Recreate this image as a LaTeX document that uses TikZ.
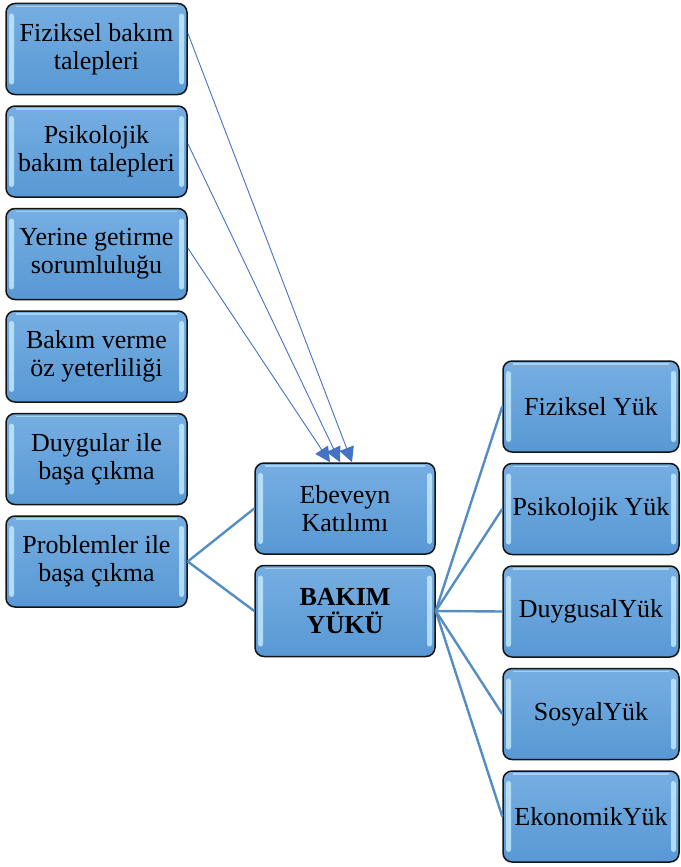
\documentclass[tikz,border=0pt]{standalone}
\usepackage{fontspec}
\setmainfont{Liberation Serif}
\definecolor{bkBox}{RGB}{88,152,212}
\definecolor{bkBoxTop}{RGB}{118,174,226}
\definecolor{bkShine}{RGB}{200,236,252}
\definecolor{bkBorder}{RGB}{20,20,20}
\definecolor{bkArrow}{RGB}{68,114,196}
\definecolor{bkLine}{RGB}{84,141,196}
\usepackage{tikz}
\usetikzlibrary{
  arrows.meta,
  positioning
}
\tikzset{
  % Genel kutu stilleri
  basenode/.style={
    rounded corners=9pt,
    draw=bkBorder,
    line width=1.5pt,
    minimum height=91pt,
    text centered,
    align=center,
    font=\fontsize{26}{28}\selectfont,
    text=black,
    top color=bkBoxTop,
    bottom color=bkBox,
    path picture={
      \fill[bkShine, opacity=0.8, rounded corners=2.5pt]
        ([xshift=3pt,yshift=-10pt]path picture bounding box.north west)
        rectangle ([xshift=8pt,yshift=10pt]path picture bounding box.south west);
      \fill[bkShine, opacity=0.8, rounded corners=2.5pt]
        ([xshift=-3pt,yshift=-10pt]path picture bounding box.north east)
        rectangle ([xshift=-8pt,yshift=10pt]path picture bounding box.south east);
      \draw[bkShine, opacity=0.6, line width=1.5pt]
        ([xshift=10pt,yshift=-3pt]path picture bounding box.north west)
        -- ([xshift=-10pt,yshift=-3pt]path picture bounding box.north east);
    }
  },
  leftbox/.style={basenode, minimum width=181pt},
  midbox/.style={basenode, minimum width=180pt},
  rightbox/.style={basenode, minimum width=176pt},
  % Ok stilleri
  arrow/.style={-{Triangle[length=15pt,width=15pt]}, line width=0.9pt, color=bkArrow},
  link/.style={line width=2.4pt, color=bkLine},
}

\begin{document}
\begin{tikzpicture}
  \useasboundingbox (0,0) rectangle (680pt,-867pt);
  % Sol sütun
  \node[leftbox] (fizbakim) at (96.5pt,-49pt) {Fiziksel bakım\\talepleri};
  \node[leftbox, below=10pt of fizbakim] (psibakim) {Psikolojik\\bakım talepleri};
  \node[leftbox, below=10pt of psibakim] (yerine) {Yerine getirme\\sorumluluğu};
  \node[leftbox, below=10pt of yerine] (ozyet) {Bakım verme\\öz yeterliliği};
  \node[leftbox, below=10pt of ozyet] (duygu) {Duygular ile\\başa çıkma};
  \node[leftbox, below=10pt of duygu] (problem) {Problemler ile\\başa çıkma};
  % Orta sütun
  \node[midbox] (ebeveyn) at (345pt,-508.5pt) {Ebeveyn\\Katılımı};
  \node[midbox, below=10pt of ebeveyn, font=\fontsize{26}{28}\selectfont\bfseries] (bakim) {BAKIM\\YÜKÜ};
  % Sağ sütun
  \node[rightbox] (fizyuk) at (591pt,-406.5pt) {Fiziksel Yük};
  \node[rightbox, below=10pt of fizyuk] (psiyuk) {Psikolojik Yük};
  \node[rightbox, below=10pt of psiyuk] (duyyuk) {DuygusalYük};
  \node[rightbox, below=10pt of duyyuk] (sosyuk) {SosyalYük};
  \node[rightbox, below=10pt of sosyuk] (ekoyuk) {EkonomikYük};
  % Oklar
  \draw[arrow] ([yshift=16pt]fizbakim.east) -- ([xshift=7pt]ebeveyn.north);
  \draw[arrow] ([yshift=8pt]psibakim.east) -- ([xshift=-5pt]ebeveyn.north);
  \draw[arrow] ([yshift=6pt]yerine.east) -- ([xshift=-15pt]ebeveyn.north);
  % Bağlantılar
  \draw[link] (problem.east) -- (ebeveyn.west);
  \draw[link] (problem.east) -- (bakim.west);
  \foreach \n in {fizyuk,psiyuk,duyyuk,sosyuk,ekoyuk}
    \draw[link] (bakim.east) -- (\n.west);
\end{tikzpicture}
\end{document}
